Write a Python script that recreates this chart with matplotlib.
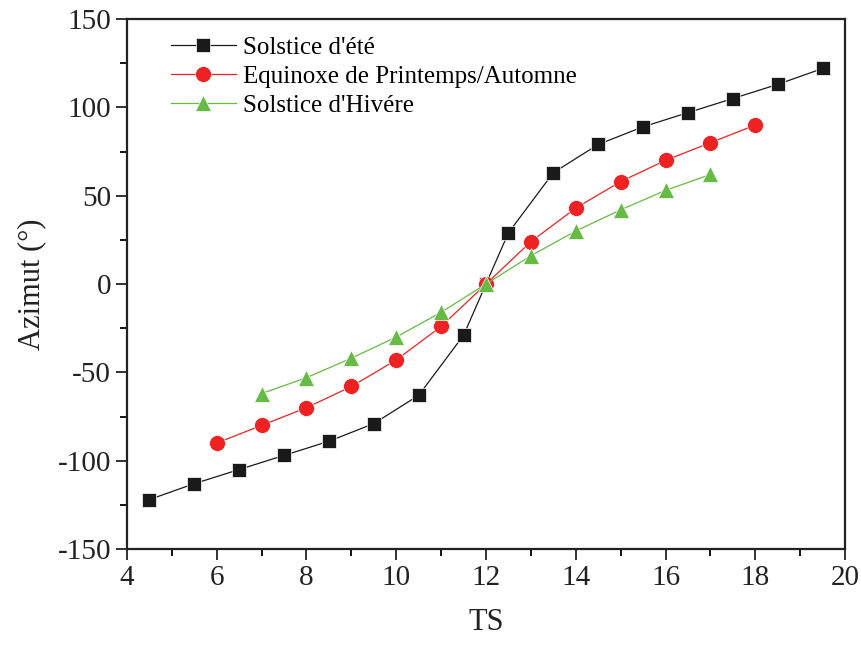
import matplotlib.pyplot as plt
from matplotlib.ticker import MultipleLocator

ts_ete = [4.5, 5.5, 6.5, 7.5, 8.5, 9.5, 10.5, 11.5, 12, 12.5, 13.5, 14.5, 15.5, 16.5, 17.5, 18.5, 19.5]
az_ete = [-122, -113, -105, -97, -89, -79, -63, -29, 0, 29, 63, 79, 89, 97, 105, 113, 122]

ts_equi = [6, 7, 8, 9, 10, 11, 12, 13, 14, 15, 16, 17, 18]
az_equi = [-90, -80, -70, -58, -43, -24, 0, 24, 43, 58, 70, 80, 90]

ts_hiver = [7, 8, 9, 10, 11, 12, 13, 14, 15, 16, 17]
az_hiver = [-62, -53, -42, -30, -16, 0, 16, 30, 42, 53, 62]

labels = ["Solstice d'été", "Equinoxe de Printemps/Automne", "Solstice d'Hivére"]

plt.rcParams['font.family'] = ['Liberation Serif', 'DejaVu Serif']
plt.rcParams['axes.unicode_minus'] = False

fig = plt.figure(figsize=(8.62, 6.45), dpi=100)
ax = fig.add_axes([0.1473, 0.1488, 0.8330, 0.8217])

ax.plot(ts_ete, az_ete, color='#1a1a1a', lw=0.9, marker='s', ms=10,
        mec='white', mew=0.5, label=labels[0])
ax.plot(ts_equi, az_equi, color='#ee2222', lw=0.9, marker='o', ms=11.5,
        mec='white', mew=0.5, label=labels[1])
ax.plot(ts_hiver, az_hiver, color='#66bb44', lw=0.9, marker='^', ms=12,
        mec='white', mew=0.5, label=labels[2])

ax.set_xlim(4, 20)
ax.set_ylim(-150, 150)
ax.xaxis.set_major_locator(MultipleLocator(2))
ax.xaxis.set_minor_locator(MultipleLocator(1))
ax.yaxis.set_major_locator(MultipleLocator(50))
ax.yaxis.set_minor_locator(MultipleLocator(25))
ax.tick_params(which='major', direction='out', length=8, width=1.3, labelsize=21, colors='#222222')
ax.tick_params(which='minor', direction='out', length=5, width=1.3)
for s in ax.spines.values():
    s.set_linewidth(1.6)
    s.set_color('#222222')

ax.set_xlabel("TS", fontsize=22, labelpad=12, color='#222222')
ax.set_ylabel("Azimut (°)", fontsize=22, labelpad=8, color='#222222')

ax.legend(loc='upper left', bbox_to_anchor=(0.04, 0.995), frameon=False, fontsize=18,
          handlelength=2.6, handletextpad=0.3, labelspacing=0.25, borderaxespad=0.2)

fig.savefig("out.png", dpi=100)
